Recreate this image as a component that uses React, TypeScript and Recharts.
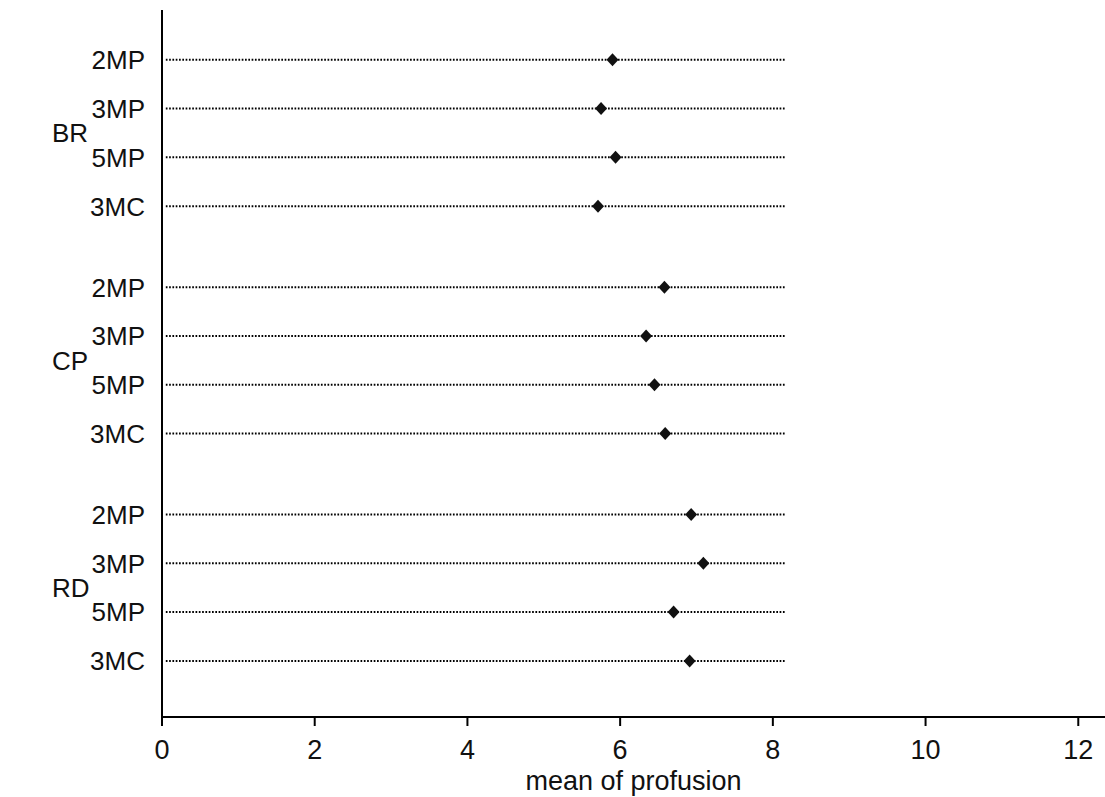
import React from 'react';
import { ScatterChart, Scatter, XAxis, YAxis, ReferenceLine } from 'recharts';

// ---- data ----
const groups = ['BR', 'CP', 'RD'];
const methods = ['2MP', '3MP', '5MP', '3MC'];
const brValues = [5.9, 5.75, 5.94, 5.71];
const cpValues = [6.58, 6.34, 6.45, 6.59];
const rdValues = [6.93, 7.09, 6.7, 6.91];
const xTicks = [0, 2, 4, 6, 8, 10, 12];
const guideEnd = 8.17;
const guideStart = 0.05;

// ---- layout helpers (derived from indices) ----
const GROUP_STEP = 4.66;
const groupValues = [brValues, cpValues, rdValues];
const rowPos = (gi: number, ri: number) => gi * GROUP_STEP + ri;

const points = groups.flatMap((g, gi) =>
  methods.map((m, ri) => ({ group: g, method: m, value: groupValues[gi][ri], pos: rowPos(gi, ri) }))
);

const key = (v: number) => v.toFixed(3);
const tickLabels: Record<string, { text: string; isGroup: boolean }> = {};
points.forEach((p) => {
  tickLabels[key(p.pos)] = { text: p.method, isGroup: false };
});
const groupCenters = groups.map((g, gi) => {
  const c = rowPos(gi, 1.5);
  tickLabels[key(c)] = { text: g, isGroup: true };
  return c;
});
const yTicks = [...points.map((p) => p.pos), ...groupCenters].sort((a, b) => a - b);

const FONT = 'Liberation Sans, Arial, sans-serif';

const YTick = (props: any) => {
  const { x, y, payload } = props;
  const info = tickLabels[key(payload.value)];
  if (!info) return null;
  if (info.isGroup) {
    return (
      <text x={x - 93} y={y} dy="0.36em" textAnchor="start" fontSize={26} fontFamily={FONT} fill="#111">
        {info.text}
      </text>
    );
  }
  return (
    <text x={x} y={y} dy="0.36em" textAnchor="end" fontSize={26} fontFamily={FONT} fill="#111">
      {info.text}
    </text>
  );
};

const Diamond = (props: any) => {
  const { cx, cy } = props;
  const rx = 6;
  const ry = 6.5;
  return <polygon points={`${cx},${cy - ry} ${cx + rx},${cy} ${cx},${cy + ry} ${cx - rx},${cy}`} fill="#111" />;
};

export default function App() {
  return (
    <div style={{ position: 'absolute', left: 0, top: 0, width: 1105, height: 797, background: '#fff' }}>
      <ScatterChart width={1105} height={797} margin={{ top: 10, right: 0, bottom: 0, left: 0 }}>
        <XAxis
          type="number"
          dataKey="value"
          domain={[0, 12.35]}
          ticks={xTicks}
          allowDataOverflow
          height={80}
          tickSize={9}
          tickMargin={14}
          axisLine={{ stroke: '#000', strokeWidth: 2 }}
          tickLine={{ stroke: '#000', strokeWidth: 2 }}
          tick={{ fontSize: 27, fontFamily: FONT, fill: '#111' }}
          label={{ value: 'mean of profusion', position: 'insideBottom', offset: 7, fontSize: 27, fontFamily: FONT, fill: '#111' }}
        />
        <YAxis
          type="number"
          dataKey="pos"
          reversed
          domain={[-1.02, 13.47]}
          ticks={yTicks}
          allowDataOverflow
          width={162}
          tickSize={0}
          tickMargin={17}
          tickLine={false}
          axisLine={{ stroke: '#000', strokeWidth: 2 }}
          tick={<YTick />}
          interval={0}
        />
        {points.map((p) => (
          <ReferenceLine
            key={`${p.group}-${p.method}`}
            segment={[
              { x: guideStart, y: p.pos },
              { x: guideEnd, y: p.pos },
            ]}
            stroke="#000"
            strokeWidth={2}
            strokeDasharray="1.7 1.6"
          />
        ))}
        <Scatter data={points} dataKey="value" shape={<Diamond />} isAnimationActive={false} />
      </ScatterChart>
    </div>
  );
}
